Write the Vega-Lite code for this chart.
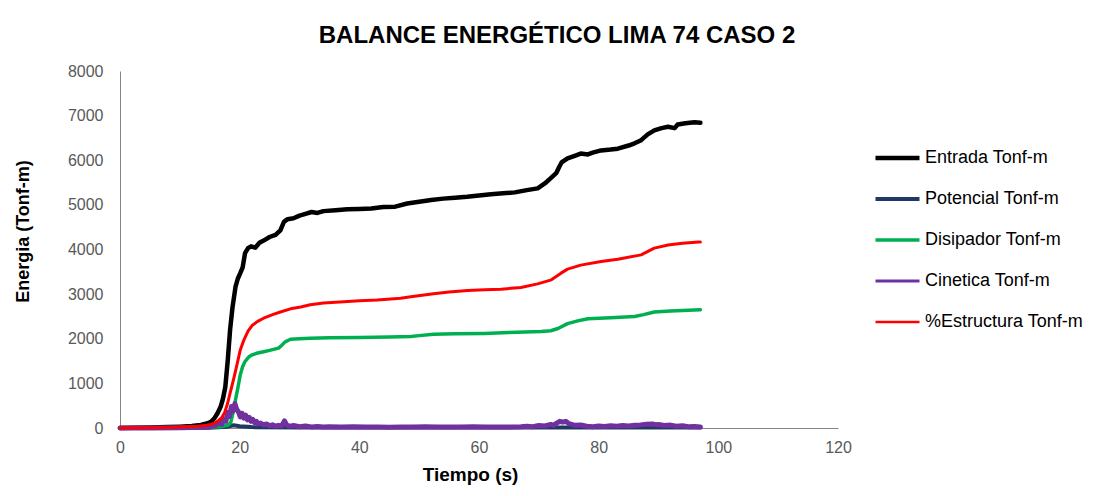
{
  "$schema": "https://vega.github.io/schema/vega-lite/v6.json",
  "width": 718,
  "height": 357,
  "autosize": "none",
  "padding": {"left": 120, "top": 71, "right": 258, "bottom": 68},
  "background": "white",
  "title": {
    "text": "BALANCE ENERGÉTICO LIMA 74 CASO 2",
    "anchor": "middle",
    "frame": "group",
    "dx": 78,
    "offset": -4,
    "baseline": "alphabetic",
    "font": "Liberation Sans",
    "fontSize": 24,
    "fontWeight": "bold",
    "color": "#000000"
  },
  "config": {
    "view": {"stroke": null},
    "axis": {"grid": false, "ticks": false, "domainColor": "#868686", "domainWidth": 1, "labelFont": "Liberation Sans", "labelFontSize": 16, "labelColor": "#595959", "labelFlush": false, "titleFont": "Liberation Sans", "titleFontSize": 18, "titleFontWeight": "bold", "titleColor": "#000000"}
  },
  "datasets": {
    "d": [
      {"t":0,"s":"Entrada Tonf-m","v":0},{"t":2,"s":"Entrada Tonf-m","v":5},{"t":5,"s":"Entrada Tonf-m","v":10},{"t":8,"s":"Entrada Tonf-m","v":20},{"t":10,"s":"Entrada Tonf-m","v":30},{"t":12,"s":"Entrada Tonf-m","v":45},{"t":13.5,"s":"Entrada Tonf-m","v":70},{"t":14.5,"s":"Entrada Tonf-m","v":100},{"t":15.2,"s":"Entrada Tonf-m","v":140},{"t":15.8,"s":"Entrada Tonf-m","v":220},{"t":16.3,"s":"Entrada Tonf-m","v":330},{"t":16.8,"s":"Entrada Tonf-m","v":470},{"t":17.2,"s":"Entrada Tonf-m","v":650},{"t":17.6,"s":"Entrada Tonf-m","v":920},{"t":18.0,"s":"Entrada Tonf-m","v":1500},{"t":18.4,"s":"Entrada Tonf-m","v":2200},{"t":18.8,"s":"Entrada Tonf-m","v":2700},{"t":19.3,"s":"Entrada Tonf-m","v":3160},{"t":19.7,"s":"Entrada Tonf-m","v":3350},{"t":20.1,"s":"Entrada Tonf-m","v":3470},{"t":20.5,"s":"Entrada Tonf-m","v":3600},{"t":20.9,"s":"Entrada Tonf-m","v":3920},{"t":21.4,"s":"Entrada Tonf-m","v":4030},{"t":21.9,"s":"Entrada Tonf-m","v":4070},{"t":22.6,"s":"Entrada Tonf-m","v":4040},{"t":23.3,"s":"Entrada Tonf-m","v":4150},{"t":24.0,"s":"Entrada Tonf-m","v":4200},{"t":25.0,"s":"Entrada Tonf-m","v":4280},{"t":26.0,"s":"Entrada Tonf-m","v":4330},{"t":26.8,"s":"Entrada Tonf-m","v":4430},{"t":27.4,"s":"Entrada Tonf-m","v":4620},{"t":28.0,"s":"Entrada Tonf-m","v":4680},{"t":29.0,"s":"Entrada Tonf-m","v":4700},{"t":30.0,"s":"Entrada Tonf-m","v":4760},{"t":31.0,"s":"Entrada Tonf-m","v":4800},{"t":32.0,"s":"Entrada Tonf-m","v":4840},{"t":33.0,"s":"Entrada Tonf-m","v":4820},{"t":34.0,"s":"Entrada Tonf-m","v":4860},{"t":36.0,"s":"Entrada Tonf-m","v":4880},{"t":38.0,"s":"Entrada Tonf-m","v":4900},{"t":40.0,"s":"Entrada Tonf-m","v":4910},{"t":42.0,"s":"Entrada Tonf-m","v":4920},{"t":44.0,"s":"Entrada Tonf-m","v":4950},{"t":46.0,"s":"Entrada Tonf-m","v":4960},{"t":48.0,"s":"Entrada Tonf-m","v":5030},{"t":50.0,"s":"Entrada Tonf-m","v":5070},{"t":52.0,"s":"Entrada Tonf-m","v":5110},{"t":54.0,"s":"Entrada Tonf-m","v":5140},{"t":56.0,"s":"Entrada Tonf-m","v":5160},{"t":58.0,"s":"Entrada Tonf-m","v":5180},{"t":60.0,"s":"Entrada Tonf-m","v":5210},{"t":62.0,"s":"Entrada Tonf-m","v":5240},{"t":64.0,"s":"Entrada Tonf-m","v":5260},{"t":66.0,"s":"Entrada Tonf-m","v":5280},{"t":68.0,"s":"Entrada Tonf-m","v":5330},{"t":69.8,"s":"Entrada Tonf-m","v":5370},{"t":71.0,"s":"Entrada Tonf-m","v":5480},{"t":72.0,"s":"Entrada Tonf-m","v":5600},{"t":72.9,"s":"Entrada Tonf-m","v":5710},{"t":73.4,"s":"Entrada Tonf-m","v":5850},{"t":73.8,"s":"Entrada Tonf-m","v":5950},{"t":74.8,"s":"Entrada Tonf-m","v":6040},{"t":76.0,"s":"Entrada Tonf-m","v":6100},{"t":77.0,"s":"Entrada Tonf-m","v":6150},{"t":78.2,"s":"Entrada Tonf-m","v":6130},{"t":79.0,"s":"Entrada Tonf-m","v":6170},{"t":80.4,"s":"Entrada Tonf-m","v":6220},{"t":82.0,"s":"Entrada Tonf-m","v":6240},{"t":83.2,"s":"Entrada Tonf-m","v":6260},{"t":85.0,"s":"Entrada Tonf-m","v":6330},{"t":86.0,"s":"Entrada Tonf-m","v":6380},{"t":87.1,"s":"Entrada Tonf-m","v":6450},{"t":88.2,"s":"Entrada Tonf-m","v":6580},{"t":89.3,"s":"Entrada Tonf-m","v":6670},{"t":90.5,"s":"Entrada Tonf-m","v":6720},{"t":91.6,"s":"Entrada Tonf-m","v":6750},{"t":92.7,"s":"Entrada Tonf-m","v":6720},{"t":93.2,"s":"Entrada Tonf-m","v":6800},{"t":94.5,"s":"Entrada Tonf-m","v":6830},{"t":96.0,"s":"Entrada Tonf-m","v":6850},{"t":97.0,"s":"Entrada Tonf-m","v":6840},
      {"t":0,"s":"Potencial Tonf-m","v":0},{"t":15,"s":"Potencial Tonf-m","v":5},{"t":18,"s":"Potencial Tonf-m","v":30},{"t":19,"s":"Potencial Tonf-m","v":60},{"t":20,"s":"Potencial Tonf-m","v":40},{"t":22,"s":"Potencial Tonf-m","v":20},{"t":30,"s":"Potencial Tonf-m","v":10},{"t":97,"s":"Potencial Tonf-m","v":10},
      {"t":0,"s":"Disipador Tonf-m","v":0},{"t":10,"s":"Disipador Tonf-m","v":5},{"t":15,"s":"Disipador Tonf-m","v":15},{"t":17,"s":"Disipador Tonf-m","v":30},{"t":18,"s":"Disipador Tonf-m","v":60},{"t":18.5,"s":"Disipador Tonf-m","v":120},{"t":19.0,"s":"Disipador Tonf-m","v":400},{"t":19.3,"s":"Disipador Tonf-m","v":630},{"t":19.7,"s":"Disipador Tonf-m","v":900},{"t":20.1,"s":"Disipador Tonf-m","v":1190},{"t":20.5,"s":"Disipador Tonf-m","v":1380},{"t":20.9,"s":"Disipador Tonf-m","v":1490},{"t":21.5,"s":"Disipador Tonf-m","v":1590},{"t":22.1,"s":"Disipador Tonf-m","v":1640},{"t":23,"s":"Disipador Tonf-m","v":1680},{"t":24,"s":"Disipador Tonf-m","v":1710},{"t":25,"s":"Disipador Tonf-m","v":1740},{"t":26.5,"s":"Disipador Tonf-m","v":1790},{"t":27,"s":"Disipador Tonf-m","v":1850},{"t":27.6,"s":"Disipador Tonf-m","v":1930},{"t":28.5,"s":"Disipador Tonf-m","v":1990},{"t":30,"s":"Disipador Tonf-m","v":2000},{"t":31.8,"s":"Disipador Tonf-m","v":2010},{"t":35,"s":"Disipador Tonf-m","v":2020},{"t":40,"s":"Disipador Tonf-m","v":2030},{"t":45,"s":"Disipador Tonf-m","v":2040},{"t":48.6,"s":"Disipador Tonf-m","v":2050},{"t":50,"s":"Disipador Tonf-m","v":2070},{"t":52.4,"s":"Disipador Tonf-m","v":2100},{"t":56,"s":"Disipador Tonf-m","v":2110},{"t":60.9,"s":"Disipador Tonf-m","v":2120},{"t":65,"s":"Disipador Tonf-m","v":2140},{"t":70.4,"s":"Disipador Tonf-m","v":2160},{"t":72,"s":"Disipador Tonf-m","v":2180},{"t":73.2,"s":"Disipador Tonf-m","v":2230},{"t":74.8,"s":"Disipador Tonf-m","v":2340},{"t":76.5,"s":"Disipador Tonf-m","v":2400},{"t":78.2,"s":"Disipador Tonf-m","v":2450},{"t":82,"s":"Disipador Tonf-m","v":2470},{"t":86,"s":"Disipador Tonf-m","v":2500},{"t":87.5,"s":"Disipador Tonf-m","v":2540},{"t":89.3,"s":"Disipador Tonf-m","v":2600},{"t":92,"s":"Disipador Tonf-m","v":2620},{"t":95,"s":"Disipador Tonf-m","v":2640},{"t":97,"s":"Disipador Tonf-m","v":2650},
      {"t":0,"s":"%Estructura Tonf-m","v":0},{"t":5,"s":"%Estructura Tonf-m","v":5},{"t":10,"s":"%Estructura Tonf-m","v":20},{"t":13,"s":"%Estructura Tonf-m","v":40},{"t":14.5,"s":"%Estructura Tonf-m","v":60},{"t":15.5,"s":"%Estructura Tonf-m","v":90},{"t":16.3,"s":"%Estructura Tonf-m","v":150},{"t":17.0,"s":"%Estructura Tonf-m","v":230},{"t":17.5,"s":"%Estructura Tonf-m","v":350},{"t":18.0,"s":"%Estructura Tonf-m","v":560},{"t":18.4,"s":"%Estructura Tonf-m","v":780},{"t":19.0,"s":"%Estructura Tonf-m","v":1100},{"t":19.6,"s":"%Estructura Tonf-m","v":1450},{"t":20.1,"s":"%Estructura Tonf-m","v":1750},{"t":20.7,"s":"%Estructura Tonf-m","v":1970},{"t":21.4,"s":"%Estructura Tonf-m","v":2170},{"t":22.1,"s":"%Estructura Tonf-m","v":2300},{"t":23.0,"s":"%Estructura Tonf-m","v":2390},{"t":24.0,"s":"%Estructura Tonf-m","v":2460},{"t":25.5,"s":"%Estructura Tonf-m","v":2540},{"t":26.8,"s":"%Estructura Tonf-m","v":2600},{"t":28.5,"s":"%Estructura Tonf-m","v":2670},{"t":30.2,"s":"%Estructura Tonf-m","v":2710},{"t":31.8,"s":"%Estructura Tonf-m","v":2760},{"t":34,"s":"%Estructura Tonf-m","v":2800},{"t":37.4,"s":"%Estructura Tonf-m","v":2830},{"t":40,"s":"%Estructura Tonf-m","v":2850},{"t":43,"s":"%Estructura Tonf-m","v":2870},{"t":46.9,"s":"%Estructura Tonf-m","v":2910},{"t":48.6,"s":"%Estructura Tonf-m","v":2940},{"t":52.4,"s":"%Estructura Tonf-m","v":3010},{"t":55,"s":"%Estructura Tonf-m","v":3050},{"t":58.1,"s":"%Estructura Tonf-m","v":3080},{"t":61,"s":"%Estructura Tonf-m","v":3100},{"t":63.7,"s":"%Estructura Tonf-m","v":3110},{"t":67,"s":"%Estructura Tonf-m","v":3150},{"t":69.8,"s":"%Estructura Tonf-m","v":3230},{"t":72.1,"s":"%Estructura Tonf-m","v":3320},{"t":73.7,"s":"%Estructura Tonf-m","v":3470},{"t":74.8,"s":"%Estructura Tonf-m","v":3560},{"t":77,"s":"%Estructura Tonf-m","v":3650},{"t":80.4,"s":"%Estructura Tonf-m","v":3730},{"t":83.2,"s":"%Estructura Tonf-m","v":3780},{"t":87.1,"s":"%Estructura Tonf-m","v":3880},{"t":89.3,"s":"%Estructura Tonf-m","v":4030},{"t":91.6,"s":"%Estructura Tonf-m","v":4100},{"t":94,"s":"%Estructura Tonf-m","v":4140},{"t":96.7,"s":"%Estructura Tonf-m","v":4170},{"t":97,"s":"%Estructura Tonf-m","v":4170},
      {"t":0,"s":"Cinetica Tonf-m","v":0},{"t":5,"s":"Cinetica Tonf-m","v":2},{"t":10,"s":"Cinetica Tonf-m","v":5},{"t":14,"s":"Cinetica Tonf-m","v":15},{"t":15,"s":"Cinetica Tonf-m","v":30},{"t":16,"s":"Cinetica Tonf-m","v":60},{"t":16.5,"s":"Cinetica Tonf-m","v":120},{"t":17,"s":"Cinetica Tonf-m","v":80},{"t":17.3,"s":"Cinetica Tonf-m","v":200},{"t":17.7,"s":"Cinetica Tonf-m","v":150},{"t":18,"s":"Cinetica Tonf-m","v":350},{"t":18.3,"s":"Cinetica Tonf-m","v":260},{"t":18.6,"s":"Cinetica Tonf-m","v":480},{"t":18.9,"s":"Cinetica Tonf-m","v":380},{"t":19.2,"s":"Cinetica Tonf-m","v":550},{"t":19.5,"s":"Cinetica Tonf-m","v":420},{"t":19.8,"s":"Cinetica Tonf-m","v":360},{"t":20.1,"s":"Cinetica Tonf-m","v":250},{"t":20.4,"s":"Cinetica Tonf-m","v":330},{"t":20.7,"s":"Cinetica Tonf-m","v":220},{"t":21,"s":"Cinetica Tonf-m","v":290},{"t":21.3,"s":"Cinetica Tonf-m","v":180},{"t":21.6,"s":"Cinetica Tonf-m","v":240},{"t":21.9,"s":"Cinetica Tonf-m","v":150},{"t":22.2,"s":"Cinetica Tonf-m","v":190},{"t":22.5,"s":"Cinetica Tonf-m","v":120},{"t":22.8,"s":"Cinetica Tonf-m","v":150},{"t":23.1,"s":"Cinetica Tonf-m","v":90},{"t":23.5,"s":"Cinetica Tonf-m","v":110},{"t":24,"s":"Cinetica Tonf-m","v":70},{"t":24.5,"s":"Cinetica Tonf-m","v":90},{"t":25,"s":"Cinetica Tonf-m","v":50},{"t":25.5,"s":"Cinetica Tonf-m","v":70},{"t":26,"s":"Cinetica Tonf-m","v":40},{"t":26.5,"s":"Cinetica Tonf-m","v":60},{"t":27,"s":"Cinetica Tonf-m","v":45},{"t":27.5,"s":"Cinetica Tonf-m","v":160},{"t":27.9,"s":"Cinetica Tonf-m","v":60},{"t":28.5,"s":"Cinetica Tonf-m","v":40},{"t":29,"s":"Cinetica Tonf-m","v":55},{"t":30,"s":"Cinetica Tonf-m","v":30},{"t":31,"s":"Cinetica Tonf-m","v":45},{"t":32,"s":"Cinetica Tonf-m","v":25},{"t":33,"s":"Cinetica Tonf-m","v":35},{"t":34,"s":"Cinetica Tonf-m","v":20},{"t":35,"s":"Cinetica Tonf-m","v":30},{"t":37,"s":"Cinetica Tonf-m","v":20},{"t":39,"s":"Cinetica Tonf-m","v":30},{"t":41,"s":"Cinetica Tonf-m","v":20},{"t":43,"s":"Cinetica Tonf-m","v":25},{"t":45,"s":"Cinetica Tonf-m","v":15},{"t":47,"s":"Cinetica Tonf-m","v":25},{"t":49,"s":"Cinetica Tonf-m","v":20},{"t":51,"s":"Cinetica Tonf-m","v":30},{"t":53,"s":"Cinetica Tonf-m","v":20},{"t":55,"s":"Cinetica Tonf-m","v":25},{"t":57,"s":"Cinetica Tonf-m","v":20},{"t":59,"s":"Cinetica Tonf-m","v":30},{"t":61,"s":"Cinetica Tonf-m","v":20},{"t":63,"s":"Cinetica Tonf-m","v":25},{"t":65,"s":"Cinetica Tonf-m","v":20},{"t":67,"s":"Cinetica Tonf-m","v":30},{"t":68,"s":"Cinetica Tonf-m","v":40},{"t":69,"s":"Cinetica Tonf-m","v":30},{"t":70,"s":"Cinetica Tonf-m","v":55},{"t":71,"s":"Cinetica Tonf-m","v":45},{"t":72,"s":"Cinetica Tonf-m","v":80},{"t":72.5,"s":"Cinetica Tonf-m","v":60},{"t":73,"s":"Cinetica Tonf-m","v":110},{"t":73.5,"s":"Cinetica Tonf-m","v":150},{"t":74,"s":"Cinetica Tonf-m","v":130},{"t":74.5,"s":"Cinetica Tonf-m","v":150},{"t":75,"s":"Cinetica Tonf-m","v":100},{"t":75.5,"s":"Cinetica Tonf-m","v":80},{"t":76,"s":"Cinetica Tonf-m","v":60},{"t":77,"s":"Cinetica Tonf-m","v":70},{"t":78,"s":"Cinetica Tonf-m","v":40},{"t":79,"s":"Cinetica Tonf-m","v":30},{"t":80,"s":"Cinetica Tonf-m","v":45},{"t":81,"s":"Cinetica Tonf-m","v":35},{"t":82,"s":"Cinetica Tonf-m","v":50},{"t":83,"s":"Cinetica Tonf-m","v":40},{"t":84,"s":"Cinetica Tonf-m","v":55},{"t":85,"s":"Cinetica Tonf-m","v":45},{"t":86,"s":"Cinetica Tonf-m","v":60},{"t":87,"s":"Cinetica Tonf-m","v":70},{"t":88,"s":"Cinetica Tonf-m","v":85},{"t":89,"s":"Cinetica Tonf-m","v":90},{"t":89.5,"s":"Cinetica Tonf-m","v":75},{"t":90,"s":"Cinetica Tonf-m","v":80},{"t":91,"s":"Cinetica Tonf-m","v":55},{"t":92,"s":"Cinetica Tonf-m","v":65},{"t":93,"s":"Cinetica Tonf-m","v":40},{"t":94,"s":"Cinetica Tonf-m","v":50},{"t":95,"s":"Cinetica Tonf-m","v":30},{"t":96,"s":"Cinetica Tonf-m","v":35},{"t":97,"s":"Cinetica Tonf-m","v":20}
    ]
  },
  "data": {"name": "d"},
  "encoding": {
    "x": {"field": "t", "type": "quantitative", "scale": {"domain": [0, 120], "nice": false},
      "axis": {"values": [0, 20, 40, 60, 80, 100, 120], "title": "Tiempo (s)", "labelPadding": 11, "titleX": 350, "titleY": 46, "titleBaseline": "middle", "titleAnchor": null, "titleFontSize": 19}},
    "y": {"field": "v", "type": "quantitative", "scale": {"domain": [0, 8000], "nice": false},
      "axis": {"values": [0,1000,2000,3000,4000,5000,6000,7000,8000], "format": "d", "title": "Energia (Tonf-m)", "labelPadding": 17, "titleX": -97, "titleY": 160, "titleAngle": -90, "titleBaseline": "middle", "titleAlign": "center", "titleFontSize": 18}},
    "color": {"field": "s", "type": "nominal",
      "scale": {"domain": ["Entrada Tonf-m", "Potencial Tonf-m", "Disipador Tonf-m", "Cinetica Tonf-m", "%Estructura Tonf-m"], "range": ["#000000", "#1F3864", "#00B050", "#7030A0", "#FF0000"]},
      "legend": {"title": null, "orient": "none", "legendX": 753, "legendY": 77, "symbolType": "stroke", "symbolSize": 1936, "clipHeight": 20, "rowPadding": 21, "labelFont": "Liberation Sans", "labelFontSize": 18, "labelColor": "#000000", "labelOffset": 3, "padding": 0}},
    "order": {"field": "t", "type": "quantitative"}
  },
  "layer": [
    {
      "transform": [{"filter": "datum.s !== 'Cinetica Tonf-m' && datum.s !== '%Estructura Tonf-m'"}],
      "mark": {"type": "line", "strokeJoin": "round", "strokeCap": "round"},
      "encoding": {
        "strokeWidth": {"field": "s", "type": "nominal",
          "scale": {"domain": ["Entrada Tonf-m", "Potencial Tonf-m", "Disipador Tonf-m", "Cinetica Tonf-m", "%Estructura Tonf-m"], "range": [4.5, 2.5, 3, 2, 2.7]},
          "legend": {"title": null, "orient": "none", "legendX": 753, "legendY": 77, "symbolType": "stroke", "symbolSize": 1936, "clipHeight": 20, "rowPadding": 21, "labelFont": "Liberation Sans", "labelFontSize": 18, "labelColor": "#000000", "labelOffset": 3, "padding": 0}}
      }
    },
    {
      "transform": [{"filter": "datum.s === 'Cinetica Tonf-m'"}],
      "mark": {"type": "line", "strokeJoin": "round", "strokeCap": "round", "strokeWidth": 5}
    },
    {
      "transform": [{"filter": "datum.s === '%Estructura Tonf-m'"}],
      "mark": {"type": "line", "strokeJoin": "round", "strokeCap": "round", "strokeWidth": 3}
    }
  ]
}
